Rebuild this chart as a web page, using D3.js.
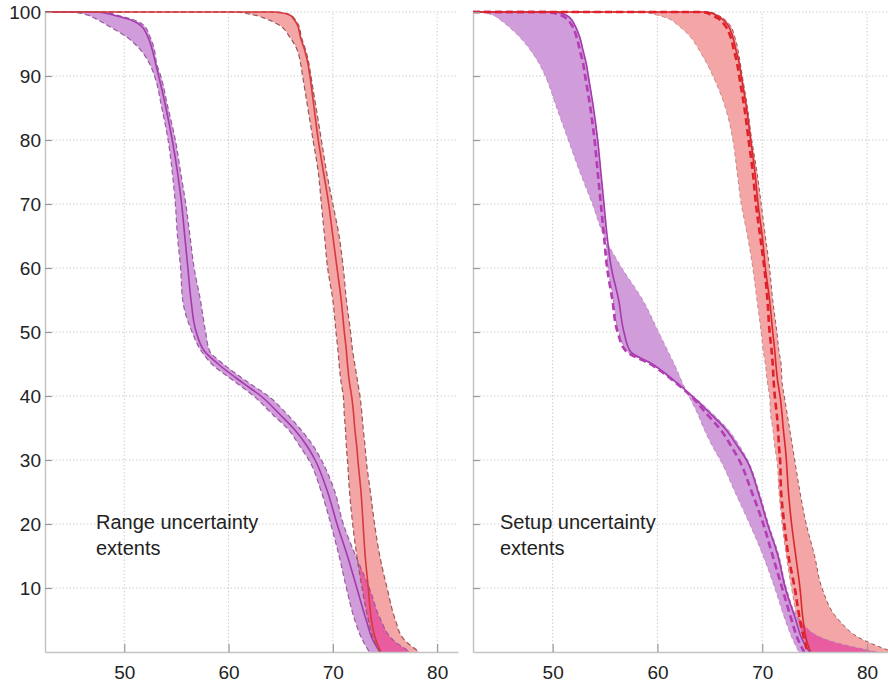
<!DOCTYPE html>
<html>
<head>
<meta charset="utf-8">
<script src="https://cdn.jsdelivr.net/npm/d3@7"></script>
<style>
  body { margin: 0; background: #fff; }
  svg { font-family: "Liberation Sans", Arial, sans-serif; }
</style>
</head>
<body>
<svg id="chart" width="888" height="686"></svg>
<script>
// volume levels (%) shared by every curve, dose values (Gy) read at each level
var vols = [100, 99.5, 99, 98, 96, 94, 92, 90, 85, 80, 75, 70, 65, 60, 55, 50, 47, 45, 42, 40, 37, 35, 32, 30, 25, 20, 15, 10, 5, 2, 0];

// left panel: range uncertainty
var rangePurpleLo  = [45.0, 46.5, 47.2, 48.3, 50.3, 51.6, 52.4, 52.9, 53.6, 54.2, 54.6, 54.9, 55.1, 55.4, 55.6, 56.5, 57.4, 58.4, 60.8, 62.4, 64.3, 65.6, 66.9, 67.7, 68.9, 69.8, 70.6, 71.3, 72.1, 72.8, 73.5];
var rangePurpleNom = [47.5, 49.0, 50.2, 51.5, 52.3, 52.7, 53.0, 53.3, 54.0, 54.6, 55.1, 55.5, 55.8, 56.1, 56.4, 56.9, 57.7, 59.0, 61.4, 63.1, 65.0, 66.2, 67.6, 68.3, 69.5, 70.4, 71.4, 72.3, 73.2, 73.8, 74.5];
var rangePurpleHi  = [48.0, 49.3, 50.5, 51.8, 52.5, 52.9, 53.1, 53.5, 54.2, 54.9, 55.4, 55.9, 56.3, 56.7, 57.3, 57.8, 58.2, 59.5, 62.0, 63.8, 65.7, 66.8, 68.2, 68.9, 70.2, 71.0, 72.2, 73.5, 74.6, 75.7, 77.4];
var rangeRedLo  = [60.5, 62.5, 63.5, 64.8, 65.9, 66.6, 66.9, 67.1, 67.6, 68.1, 68.6, 68.9, 69.2, 69.5, 70.0, 70.3, 70.5, 70.6, 70.8, 71.0, 71.1, 71.2, 71.3, 71.4, 71.6, 71.9, 72.3, 72.8, 73.4, 73.9, 74.5];
var rangeRedNom = [64.5, 65.9, 66.2, 66.6, 66.9, 67.3, 67.6, 67.8, 68.2, 68.6, 69.1, 69.6, 70.0, 70.4, 70.8, 71.1, 71.3, 71.4, 71.6, 71.8, 72.0, 72.1, 72.3, 72.4, 72.7, 72.9, 73.1, 73.4, 73.7, 74.1, 74.6];
var rangeRedHi  = [64.8, 66.0, 66.3, 66.7, 67.0, 67.4, 67.7, 67.9, 68.4, 68.9, 69.4, 70.0, 70.6, 71.0, 71.3, 71.7, 71.9, 72.1, 72.4, 72.6, 72.8, 72.9, 73.1, 73.2, 73.6, 74.0, 74.5, 75.2, 76.0, 76.8, 78.3];

// right panel: setup uncertainty
var setupPurpleA    = [43.0, 44.3, 44.8, 45.6, 46.9, 47.9, 48.7, 49.3, 50.4, 51.5, 52.6, 53.8, 54.9, 56.6, 58.6, 60.1, 61.0, 61.6, 62.4, 63.0, 63.9, 64.4, 65.3, 66.0, 67.4, 68.8, 70.1, 71.2, 72.2, 72.9, 73.5];
var setupPurpleB    = [50.3, 51.3, 51.7, 52.1, 52.6, 52.9, 53.2, 53.4, 53.9, 54.3, 54.6, 54.9, 55.1, 55.3, 55.8, 56.3, 57.1, 59.4, 61.8, 63.4, 65.4, 66.6, 67.9, 68.6, 69.7, 70.6, 71.6, 72.3, 73.6, 76.0, 81.0];
var setupPurpleNom  = [50.3, 51.3, 51.7, 52.1, 52.6, 52.9, 53.2, 53.4, 53.9, 54.3, 54.6, 54.9, 55.2, 55.6, 56.3, 56.8, 57.4, 59.5, 61.9, 63.3, 65.2, 66.4, 67.7, 68.5, 69.6, 70.5, 71.5, 72.2, 73.2, 73.8, 74.5];
var setupPurpleDash = [49.5, 50.8, 51.3, 51.8, 52.3, 52.6, 52.9, 53.1, 53.6, 54.0, 54.3, 54.6, 54.9, 55.2, 55.7, 56.2, 57.0, 59.3, 61.8, 63.2, 64.8, 65.9, 67.1, 67.8, 69.0, 70.1, 71.0, 71.9, 72.8, 73.4, 74.0];
var setupRedA    = [58.3, 60.0, 61.0, 61.9, 63.2, 64.0, 64.7, 65.3, 66.5, 67.2, 67.6, 68.0, 68.6, 69.1, 69.5, 69.9, 70.1, 70.3, 70.5, 70.7, 70.8, 71.0, 71.2, 71.4, 71.6, 71.9, 72.3, 72.8, 73.4, 74.0, 74.6];
var setupRedB    = [65.0, 65.8, 66.3, 66.9, 67.4, 67.7, 67.9, 68.1, 68.6, 69.0, 69.5, 69.9, 70.3, 70.7, 71.0, 71.4, 71.6, 71.8, 71.9, 72.1, 72.4, 72.6, 72.9, 73.1, 73.6, 74.2, 75.0, 75.7, 77.3, 79.5, 82.5];
var setupRedNom  = [64.8, 65.6, 66.1, 66.7, 67.2, 67.5, 67.8, 68.0, 68.5, 68.9, 69.3, 69.6, 70.0, 70.3, 70.7, 71.0, 71.2, 71.3, 71.5, 71.7, 71.9, 72.0, 72.2, 72.3, 72.5, 72.8, 73.2, 73.6, 73.9, 74.2, 74.6];
var setupRedDash = [64.3, 65.2, 65.8, 66.4, 67.0, 67.3, 67.6, 67.8, 68.3, 68.7, 69.1, 69.4, 69.8, 70.2, 70.5, 70.7, 70.9, 71.0, 71.1, 71.2, 71.4, 71.5, 71.6, 71.7, 71.8, 72.1, 72.5, 73.1, 73.6, 74.0, 74.3];

var xDomain = [42.4, 82];
var xTicks = [50, 60, 70, 80];
var yTicks = [10, 20, 30, 40, 50, 60, 70, 80, 90, 100];

var purpleFill = "#d09cd9";
var redFill = "#f4a5a5";
var overlapFill = "#e95c9f";

var svg = d3.select("#chart");
var y = d3.scaleLinear().domain([0, 100]).range([652, 12]);

// pair dose arrays with the volume levels, first row is the 100% plateau from the axis start
function rows(a, b) {
  var r = vols.map(function (v, i) {
    return { vol: v, a: a[i], b: b ? b[i] : a[i] };
  });
  r.unshift({ vol: 100, a: xDomain[0], b: xDomain[0] });
  return r;
}

function panel(id, left, right, showLabels, bands, lines, caption, capX) {
  var x = d3.scaleLinear().domain(xDomain).range([left, right]);
  var g = svg.append("g");

  svg.append("clipPath").attr("id", "clip-" + id)
    .append("rect")
    .attr("x", left).attr("y", y(100) - 2)
    .attr("width", right - left).attr("height", y(0) - y(100) + 2);

  // dotted grid
  g.selectAll(".gy").data(yTicks).enter().append("line")
    .attr("x1", left).attr("x2", right)
    .attr("y1", function (d) { return y(d); })
    .attr("y2", function (d) { return y(d); })
    .attr("stroke", "#cfcfcf").attr("stroke-dasharray", "1.5,2");
  g.selectAll(".gx").data(xTicks).enter().append("line")
    .attr("y1", y(0)).attr("y2", y(100))
    .attr("x1", function (d) { return x(d); })
    .attr("x2", function (d) { return x(d); })
    .attr("stroke", "#cfcfcf").attr("stroke-dasharray", "1.5,2");

  var area = d3.area().curve(d3.curveMonotoneY)
    .y(function (d) { return y(d.vol); })
    .x0(function (d) { return x(d.a); })
    .x1(function (d) { return x(d.b); });
  var line = d3.line().curve(d3.curveMonotoneY)
    .y(function (d) { return y(d.vol); })
    .x(function (d) { return x(d.a); });

  var plot = g.append("g").attr("clip-path", "url(#clip-" + id + ")");

  bands.forEach(function (b) {
    plot.append("path").attr("d", area(rows(b.a, b.b))).attr("fill", b.fill);
  });

  // where the two bands overlap
  svg.append("clipPath").attr("id", "ov-" + id)
    .append("path").attr("d", area(rows(bands[1].a, bands[1].b)));
  plot.append("g").attr("clip-path", "url(#ov-" + id + ")")
    .append("path").attr("d", area(rows(bands[0].a, bands[0].b)))
    .attr("fill", overlapFill);

  lines.forEach(function (l) {
    plot.append("path").attr("d", line(rows(l.data)))
      .attr("fill", "none")
      .attr("stroke", l.color)
      .attr("stroke-width", l.width)
      .attr("stroke-dasharray", l.dash || null);
  });

  // axes
  var yAxis = d3.axisLeft(y).tickValues(yTicks)
    .tickSizeInner(-7).tickSizeOuter(0).tickPadding(4)
    .tickFormat(showLabels ? d3.format("d") : function () { return ""; });
  var ya = g.append("g").attr("transform", "translate(" + left + ",0)").call(yAxis);

  var xAxis = d3.axisBottom(x).tickValues(xTicks)
    .tickSizeInner(-8).tickSizeOuter(0).tickPadding(14);
  var xa = g.append("g").attr("transform", "translate(0," + y(0) + ")").call(xAxis);

  [ya, xa].forEach(function (a) {
    a.attr("font-family", null).attr("font-size", 19);
    a.select(".domain").attr("stroke", "#c4c4c4").attr("stroke-width", 1.5);
    a.selectAll(".tick line").attr("stroke", "#9a9a9a").attr("stroke-width", 1.2);
    a.selectAll(".tick text").attr("fill", "#222");
  });

  var t = g.append("text").attr("x", capX).attr("y", 529)
    .attr("font-size", 20).attr("fill", "#222");
  t.append("tspan").attr("x", capX).text(caption[0]);
  t.append("tspan").attr("x", capX).attr("dy", 26).text(caption[1]);
}

panel("range", 45, 458, true,
  [
    { a: rangePurpleLo, b: rangePurpleHi, fill: purpleFill },
    { a: rangeRedLo, b: rangeRedHi, fill: redFill }
  ],
  [
    { data: rangePurpleLo, color: "#9a5aa2", width: 1.2, dash: "5,3" },
    { data: rangePurpleHi, color: "#9a5aa2", width: 1.2, dash: "5,3" },
    { data: rangePurpleNom, color: "#a53aad", width: 1.6 },
    { data: rangeRedLo, color: "#975858", width: 1.2, dash: "5,3" },
    { data: rangeRedHi, color: "#975858", width: 1.2, dash: "5,3" },
    { data: rangeRedNom, color: "#d63a3e", width: 1.6 }
  ],
  ["Range uncertainty", "extents"], 96);

panel("setup", 473, 888, false,
  [
    { a: setupPurpleA, b: setupPurpleB, fill: purpleFill },
    { a: setupRedA, b: setupRedB, fill: redFill }
  ],
  [
    { data: setupPurpleA, color: "#c08ac8", width: 1, dash: "4,3" },
    { data: setupPurpleB, color: "#b27ab9", width: 1, dash: "4,3" },
    { data: setupPurpleNom, color: "#a53aad", width: 1.6 },
    { data: setupPurpleDash, color: "#b43cb4", width: 2.6, dash: "7,4" },
    { data: setupRedA, color: "#c48c8c", width: 1, dash: "4,3" },
    { data: setupRedB, color: "#975858", width: 1, dash: "4,3" },
    { data: setupRedNom, color: "#d8282e", width: 1.6 },
    { data: setupRedDash, color: "#e0202a", width: 2.6, dash: "7,4" }
  ],
  ["Setup uncertainty", "extents"], 500);
</script>
</body>
</html>
